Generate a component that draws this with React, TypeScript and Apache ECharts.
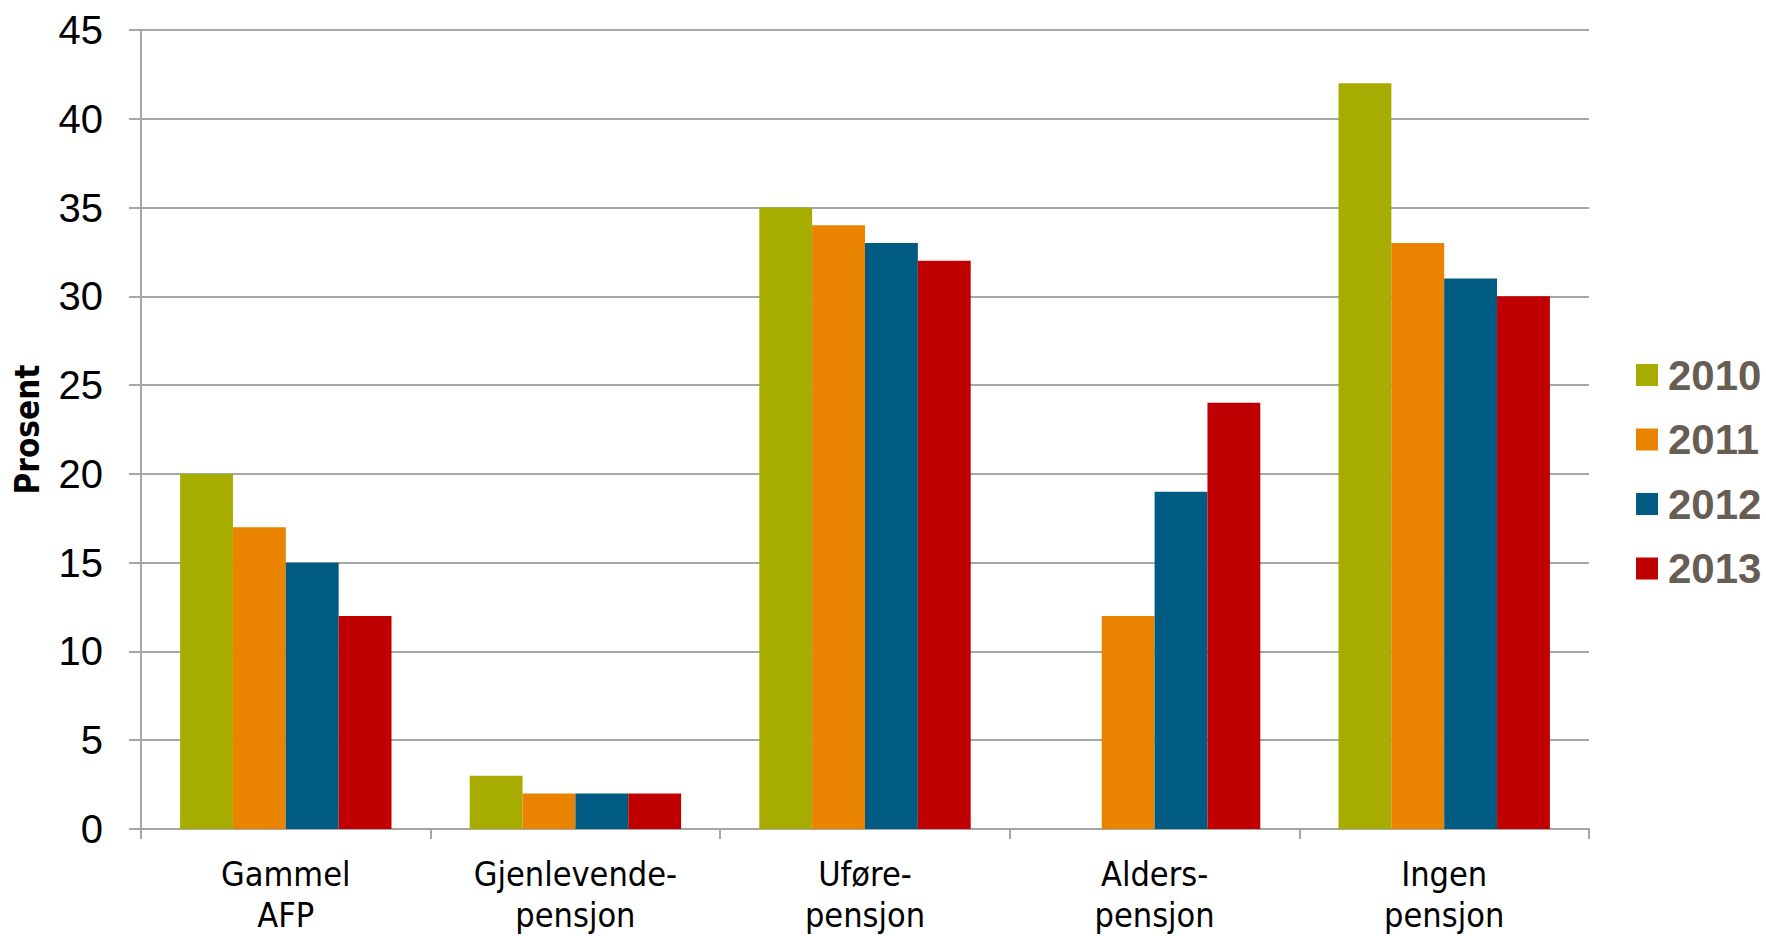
import React, { useEffect, useRef } from "react";
import * as echarts from "echarts";

const categories = ["Gammel\nAFP", "Gjenlevende-\npensjon", "Uføre-\npensjon", "Alders-\npensjon", "Ingen\npensjon"];
const seriesNames = ["2010", "2011", "2012", "2013"];
const values2010 = [20, 3, 35, null, 42];
const values2011 = [17, 2, 34, 12, 33];
const values2012 = [15, 2, 33, 19, 31];
const values2013 = [12, 2, 32, 24, 30];
const colors = ["#A6AD00", "#E98300", "#005B82", "#C00000"];
const yTicks = { min: 0, max: 45, interval: 5 };

export default function App() {
  const ref = useRef<HTMLDivElement>(null);
  useEffect(() => {
    const chart = echarts.init(ref.current!, null, { renderer: "svg" });
    const data = [values2010, values2011, values2012, values2013];
    chart.setOption({
      animation: false,
      color: colors,
      grid: { left: 141, right: 177, top: 30, bottom: 107, containLabel: false },
      legend: {
        orient: "vertical",
        left: 1636,
        top: 354,
        padding: 0,
        itemWidth: 22,
        itemHeight: 22,
        itemGap: 22.5,
        icon: "rect",
        data: seriesNames,
        textStyle: {
          fontFamily: "Liberation Sans, Arial, sans-serif",
          fontWeight: "bold",
          fontSize: 42,
          lineHeight: 42,
          color: "#675D55",
          padding: [0, 0, 0, 5],
        },
      },
      xAxis: {
        type: "category",
        data: categories,
        axisLine: { lineStyle: { color: "#A6A6A6", width: 2 } },
        axisTick: { show: true, length: 10, lineStyle: { color: "#A6A6A6", width: 2 } },
        axisLabel: {
          margin: 24,
          fontFamily: "'Liberation Sans Narrow', 'Arial Narrow', 'DejaVu Sans Condensed', sans-serif",
          fontSize: 34,
          lineHeight: 41,
          color: "#000000",
        },
      },
      yAxis: {
        type: "value",
        min: yTicks.min,
        max: yTicks.max,
        interval: yTicks.interval,
        name: "Prosent",
        nameLocation: "middle",
        nameGap: 97,
        nameTextStyle: {
          fontFamily: "'Liberation Sans Narrow', 'Arial Narrow', 'DejaVu Sans Condensed', sans-serif",
          fontWeight: "bold",
          fontSize: 33,
          color: "#000000",
        },
        axisLine: { show: true, lineStyle: { color: "#A6A6A6", width: 2 } },
        axisTick: { show: true, length: 12, lineStyle: { color: "#A6A6A6", width: 2 } },
        axisLabel: {
          margin: 38,
          fontFamily: "Liberation Sans, Arial, sans-serif",
          fontSize: 40,
          color: "#000000",
        },
        splitLine: { show: true, lineStyle: { color: "#A6A6A6", width: 2 } },
      },
      series: seriesNames.map((name, i) => ({
        name,
        type: "bar",
        data: data[i],
        barGap: "0%",
        barCategoryGap: "27%",
      })),
    });
    return () => chart.dispose();
  }, []);
  return (
    <div
      ref={ref}
      style={{ position: "fixed", left: 0, top: 0, width: 1766, height: 936, background: "#fff" }}
    />
  );
}
